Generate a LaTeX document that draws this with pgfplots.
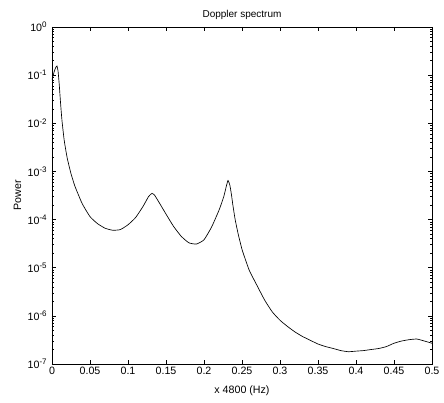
\documentclass[border=0pt]{standalone}
\usepackage{pgfplots}
\pgfplotsset{compat=1.18}
\usepackage{fontspec}
\setmainfont{Liberation Sans}
\pgfplotstableread{
f P
0 0.08
0.003 0.12
0.005 0.145
0.0066 0.155
0.008 0.12
0.0095 0.065
0.011 0.03
0.013 0.012
0.016 0.0045
0.02 0.0019
0.025 0.0009
0.03 0.0005
0.035 0.00032
0.04 0.00021
0.05 0.000115
0.06 0.000082
0.07 0.000066
0.08 0.00006
0.09 0.000062
0.1 0.000078
0.11 0.00011
0.12 0.00019
0.127 0.0003
0.1316 0.00035
0.135 0.00032
0.14 0.00024
0.15 0.00013
0.16 0.000072
0.17 0.000045
0.18 0.000033
0.19 0.000031
0.2 0.000038
0.21 0.00007
0.22 0.00016
0.226 0.0003
0.2295 0.0005
0.2316 0.00065
0.234 0.00052
0.236 0.00034
0.238 0.0002
0.241 0.0001
0.245 0.00005
0.25 0.000024
0.255 0.000014
0.26 0.0000085
0.27 0.0000042
0.28 0.0000021
0.29 0.0000012
0.3 0.00000081
0.31 0.0000006
0.32 0.00000046
0.33 0.00000037
0.34 0.00000031
0.35 0.00000026
0.36 0.00000023
0.37 0.00000021
0.38 0.00000019
0.39 0.00000018
0.4 0.000000185
0.41 0.00000019
0.42 0.0000002
0.43 0.00000021
0.44 0.00000023
0.45 0.00000027
0.46 0.0000003
0.47 0.00000032
0.48 0.00000033
0.49 0.0000003
0.5 0.00000027
}\spectrum
\begin{document}
\begin{tikzpicture}
\useasboundingbox (-39pt,-29.25pt) rectangle (294pt,273pt);
\begin{axis}[
  at={(0pt,0pt)}, anchor=south west,
  scale only axis, width=285pt, height=252.75pt,
  ymode=log, xmin=0, xmax=0.5, ymin=1e-7, ymax=1,
  xtick={0,0.05,...,0.5},
  xticklabels={0,0.05,0.1,0.15,0.2,0.25,0.3,0.35,0.4,0.45,0.5},
  ytick={1e-7,1e-6,1e-5,1e-4,1e-3,1e-2,1e-1,1},
  yticklabels={10\textsuperscript{-7},10\textsuperscript{-6},10\textsuperscript{-5},10\textsuperscript{-4},10\textsuperscript{-3},10\textsuperscript{-2},10\textsuperscript{-1},10\textsuperscript{0}},
  tick label style={font=\fontsize{8}{9}\selectfont, black},
  xticklabel style={yshift=1pt},
  major tick length=3pt, minor tick length=1.6pt,
  tick style={black, line width=0.4pt},
  axis line style={black, line width=0.5pt},
  title={Doppler spectrum},
  title style={font=\fontsize{7.5}{9}\selectfont, yshift=-4pt},
  xlabel={x 4800 (Hz)},
  xlabel style={font=\fontsize{8}{9}\selectfont, yshift=-1pt},
  ylabel={Power},
  ylabel style={font=\fontsize{8}{9}\selectfont, yshift=-2pt},
]
\addplot[black, line width=0.5pt, no marks, smooth, tension=0.3] table[x=f, y=P] {\spectrum};
\end{axis}
\end{tikzpicture}
\end{document}
